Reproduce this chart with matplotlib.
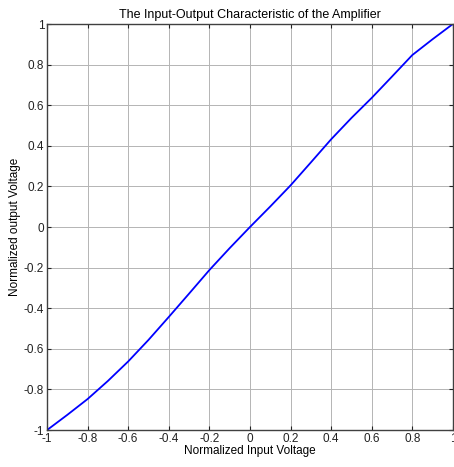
import numpy as np
import matplotlib
matplotlib.use("Agg")
import matplotlib.pyplot as plt

plt.rcParams['font.family'] = ['Liberation Sans', 'DejaVu Sans']

# input / output values
vin = [-1.0, -0.9, -0.8, -0.7, -0.6, -0.5, -0.4, -0.3, -0.2, -0.1, 0.0,
       0.1, 0.2, 0.3, 0.4, 0.5, 0.6, 0.7, 0.8, 0.9, 1.0]
vout = [-1.0, -0.925, -0.847, -0.758, -0.662, -0.556, -0.443, -0.328, -0.212, -0.104, 0.0,
        0.101, 0.205, 0.318, 0.432, 0.537, 0.636, 0.741, 0.847, 0.925, 1.0]

ticks = np.round(np.arange(-1, 1.01, 0.2), 1)
tick_labels = ['-1', '-0.8', '-0.6', '-0.4', '-0.2', '0', '0.2', '0.4', '0.6', '0.8', '1']

fig = plt.figure(figsize=(4.54, 4.67), dpi=100)
ax = fig.add_axes([0.1035, 0.079, 0.894, 0.8696])

ax.plot(vin, vout, color='#0000ff', lw=1.3)

ax.set_xlim(-1, 1)
ax.set_ylim(-1, 1)
ax.set_xticks(ticks)
ax.set_yticks(ticks)
ax.set_xticklabels(tick_labels)
ax.set_yticklabels(tick_labels)
ax.grid(True, color='#b4b4b4', lw=0.7)
ax.tick_params(direction='in', top=True, right=True, length=3, labelsize=8.5,
               colors='#222222', pad=2)
for s in ax.spines.values():
    s.set_color('#404040')
    s.set_linewidth(1.0)

ax.set_title('The Input-Output Characteristic of the Amplifier', fontsize=9, pad=4)
ax.set_xlabel('Normalized Input Voltage', fontsize=8.5, labelpad=0)
ax.set_ylabel('Normalized output Voltage', fontsize=8.5, labelpad=2)

fig.savefig('out.png', dpi=100)
